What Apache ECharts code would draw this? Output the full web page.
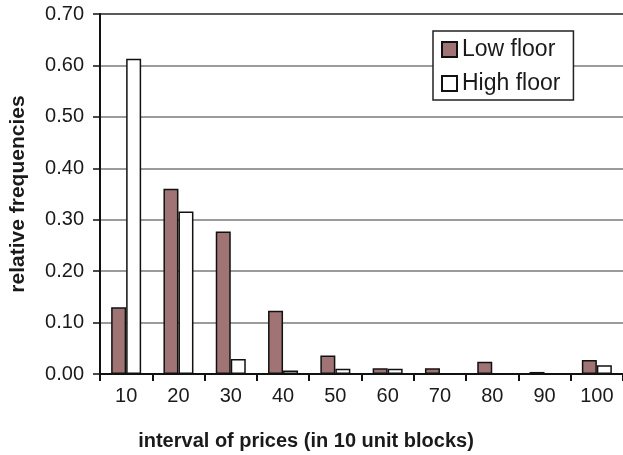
<!DOCTYPE html>
<html>
<head>
<meta charset="utf-8">
<script src="https://cdn.jsdelivr.net/npm/echarts@6/dist/echarts.min.js"></script>
<style>
  html, body { margin: 0; padding: 0; background: #fff; }
  #chart { width: 623px; height: 455px; }
</style>
</head>
<body>
<div id="chart"></div>
<script>
// Price intervals (10-unit blocks) and relative frequencies per floor type
const categories = ['10', '20', '30', '40', '50', '60', '70', '80', '90', '100'];
const lowFloor  = [0.130, 0.360, 0.277, 0.123, 0.036, 0.011, 0.011, 0.024, 0.004, 0.027];
const highFloor = [0.613, 0.316, 0.029, 0.007, 0.010, 0.010, 0, 0, 0, 0.017];
const seriesNames = ['Low floor', 'High floor'];
const yTicks = { min: 0, max: 0.7, step: 0.1 };
const xTitle = 'interval of prices (in 10 unit blocks)';
const yTitle = 'relative frequencies';

const FONT = '"Liberation Sans", Arial, Helvetica, sans-serif';
const INK = '#1a1a1a';

const chart = echarts.init(document.getElementById('chart'), null, { renderer: 'canvas' });

chart.setOption({
  animation: false,
  backgroundColor: '#ffffff',
  textStyle: { fontFamily: FONT, color: INK },
  // plot area runs slightly past the right edge of the canvas
  grid: { left: 100, top: 14, width: 528, height: 360, containLabel: false },
  legend: {
    orient: 'vertical',
    left: 433,
    top: 31,
    padding: [7, 13, 5, 8],
    itemWidth: 15,
    itemHeight: 15,
    itemGap: 11,
    borderColor: '#222',
    borderWidth: 1.5,
    backgroundColor: '#fff',
    textStyle: { fontFamily: FONT, fontSize: 23, color: INK },
    data: seriesNames.map(n => ({ name: n, icon: 'rect' }))
  },
  // x-axis title is centred on the whole chart, not on the plot area
  graphic: [{
    type: 'text',
    x: 306,
    y: 441,
    style: {
      text: xTitle,
      align: 'center',
      verticalAlign: 'middle',
      font: 'bold 20px ' + FONT,
      fill: INK
    }
  }],
  xAxis: {
    type: 'category',
    data: categories,
    boundaryGap: true,
    axisLine: { show: true, lineStyle: { color: '#111', width: 2 } },
    axisTick: { show: true, length: 7, inside: false, lineStyle: { color: '#111', width: 2 } },
    axisLabel: { interval: 0, margin: 12, fontFamily: FONT, fontSize: 20, color: INK },
    splitLine: { show: false }
  },
  yAxis: {
    type: 'value',
    min: yTicks.min,
    max: yTicks.max,
    interval: yTicks.step,
    name: yTitle,
    nameLocation: 'middle',
    nameGap: 71,
    nameTextStyle: { fontFamily: FONT, fontSize: 21, fontWeight: 'bold', color: INK },
    axisLine: { show: true, lineStyle: { color: '#111', width: 2 } },
    axisTick: { show: true, length: 7, lineStyle: { color: '#111', width: 1.5 } },
    axisLabel: {
      margin: 16,
      fontFamily: FONT,
      fontSize: 20,
      color: INK,
      formatter: v => v.toFixed(2)
    },
    splitLine: {
      show: true,
      lineStyle: {
        color: ['#7a7a7a', '#7a7a7a', '#7a7a7a', '#7a7a7a', '#7a7a7a', '#7a7a7a', '#7a7a7a', '#222'],
        width: 1.5
      }
    }
  },
  series: [
    {
      name: seriesNames[0],
      type: 'bar',
      data: lowFloor,
      barWidth: 15,
      barGap: '0%',
      itemStyle: { color: '#a07474', borderColor: '#111', borderWidth: 1.5 }
    },
    {
      name: seriesNames[1],
      type: 'bar',
      data: highFloor,
      barWidth: 15,
      barGap: '0%',
      itemStyle: { color: '#ffffff', borderColor: '#111', borderWidth: 1.5 }
    }
  ]
});
</script>
</body>
</html>
